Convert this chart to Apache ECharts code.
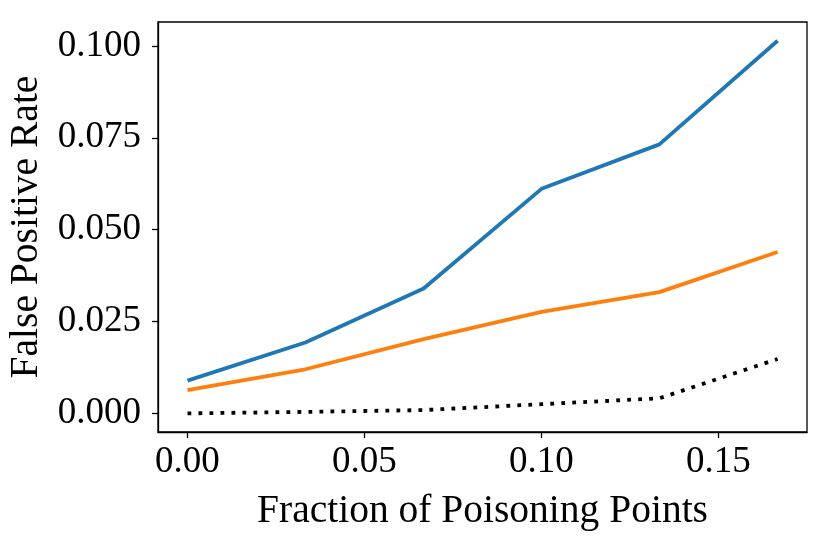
<!DOCTYPE html>
<html>
<head>
<meta charset="utf-8">
<script src="https://cdn.jsdelivr.net/npm/echarts@6/dist/echarts.min.js"></script>
<style>
  html, body { margin: 0; padding: 0; background: #fff; }
  #chart { width: 829px; height: 542px; }
</style>
</head>
<body>
<div id="chart"></div>
<script>
// fraction of poisoning points on the x axis
var fractions = [0, 0.0333, 0.0667, 0.1, 0.1333, 0.1667];
// false positive rates
var blueRate   = [0.0089, 0.0193, 0.0340, 0.0611, 0.0732, 0.1014];
var orangeRate = [0.0063, 0.0120, 0.0202, 0.0276, 0.0330, 0.0439];
var dottedRate = [0.0000, 0.0004, 0.0009, 0.0025, 0.0041, 0.0148];
// tick labels
var xTicks = [0, 0.05, 0.1, 0.15];
var yTicks = [0, 0.025, 0.05, 0.075, 0.1];

var FONT = "Liberation Serif";

function pairs(ys) {
    var out = [];
    for (var i = 0; i < fractions.length; i++) {
        out.push([fractions[i], ys[i]]);
    }
    return out;
}

var axisCommon = {
    axisLine: { show: true, onZero: false, lineStyle: { color: "#000", width: 1.3 } },
    splitLine: { show: false },
    nameTextStyle: { fontFamily: FONT, fontSize: 39.5, color: "#000" }
};

var option = {
    animation: false,
    backgroundColor: "#fff",
    grid: {
        left: 158, right: 22, top: 22, bottom: 110,
        containLabel: false, outerBoundsMode: "none",
        show: true, borderColor: "#000", borderWidth: 1.3, backgroundColor: "transparent"
    },
    xAxis: Object.assign({}, axisCommon, {
        type: "value",
        min: -0.00833,
        max: 0.175,
        name: "Fraction of Poisoning Points",
        nameLocation: "middle",
        nameGap: 60,
        axisTick: { show: true, customValues: xTicks, length: 6, inside: false, lineStyle: { color: "#000", width: 1.3 } },
        axisLabel: {
            customValues: xTicks, margin: 12,
            fontFamily: FONT, fontSize: 37, color: "#000",
            formatter: function (v) { return v.toFixed(2); }
        }
    }),
    yAxis: Object.assign({}, axisCommon, {
        type: "value",
        min: -0.00507,
        max: 0.1065,
        name: "False Positive Rate",
        nameLocation: "middle",
        nameGap: 108,
        axisTick: { show: true, customValues: yTicks, length: 6, inside: false, lineStyle: { color: "#000", width: 1.3 } },
        axisLabel: {
            customValues: yTicks, margin: 17,
            fontFamily: FONT, fontSize: 37, color: "#000",
            formatter: function (v) { return v.toFixed(3); }
        }
    }),
    series: [
        {
            type: "line", data: pairs(dottedRate), showSymbol: false,
            lineStyle: { color: "#000", width: 3.8, type: [3.8, 7.2], cap: "butt" }
        },
        {
            type: "line", data: pairs(orangeRate), showSymbol: false,
            lineStyle: { color: "#ff7f0e", width: 3.8 }
        },
        {
            type: "line", data: pairs(blueRate), showSymbol: false,
            lineStyle: { color: "#1f77b4", width: 3.8 }
        }
    ]
};

var myChart = echarts.init(document.getElementById("chart"));
myChart.setOption(option);
</script>
</body>
</html>
